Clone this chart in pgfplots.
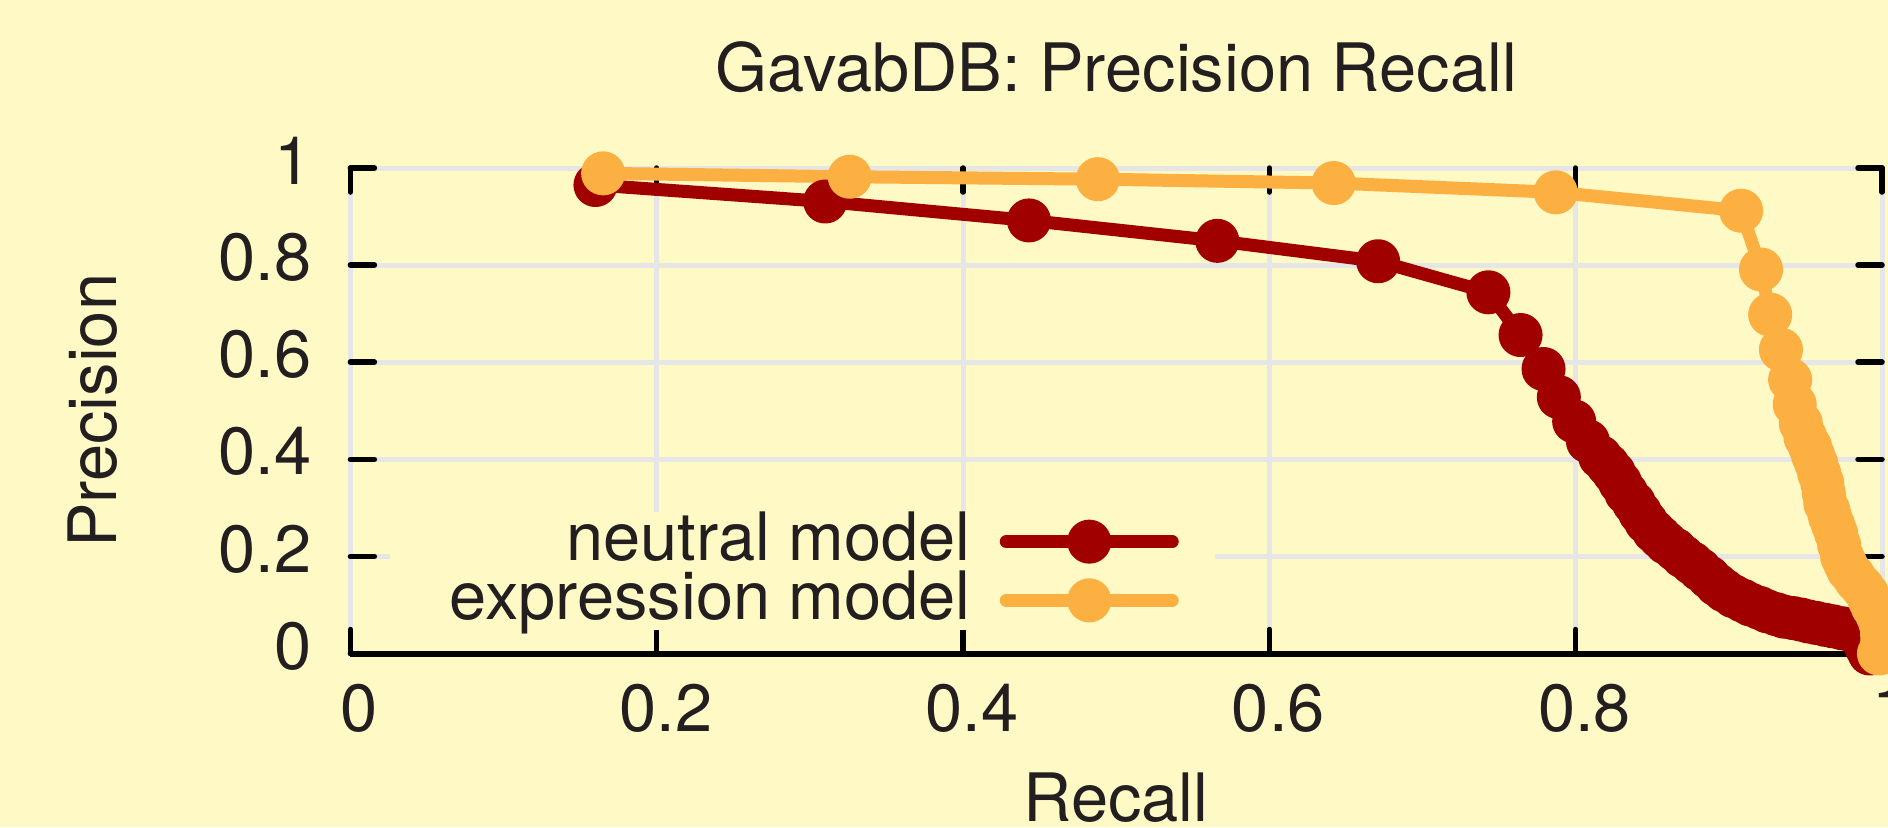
\documentclass[border=0pt]{standalone}
\usepackage{fontspec}
\setmainfont{TeX Gyre Heros}
\usepackage{pgfplots}
\pgfplotsset{compat=1.18}
\definecolor{bgc}{HTML}{FFFAC5}
\definecolor{gridc}{HTML}{E6E6E6}
\definecolor{neut}{HTML}{A00000}
\definecolor{expr}{HTML}{FDB042}
\definecolor{txt}{HTML}{231F20}
\begin{document}
\fontsize{19pt}{23pt}\selectfont
\begin{tikzpicture}
\fill[bgc] (0,0) rectangle (18.88,8.27);
\begin{axis}[
  at={(3.504cm,1.735cm)}, anchor=south west,
  scale only axis, width=15.316cm, height=4.855cm,
  xmin=0, xmax=1, ymin=0, ymax=1,
  clip=false,
  /pgf/number format/assume math mode=true,
  xtick={0,0.2,0.4,0.6,0.8,1}, xticklabels={0,0.2,0.4,0.6,0.8,1},
  ytick={0,0.2,0.4,0.6,0.8,1}, yticklabels={0,0.2,0.4,0.6,0.8,1},
  tick align=inside, major tick length=2.4mm,
  tick style={black, line width=0.55mm, line cap=round},
  grid=major, major grid style={gridc, line width=0.5mm},
  axis line style={draw=none},
  xticklabel style={anchor=north, inner sep=0pt, yshift=-2.95mm, xshift=0.9mm, text=txt},
  yticklabel style={anchor=east, inner sep=0pt, xshift=-3.84mm, yshift=0.75mm, text=txt},
  title={GavabDB: Precision Recall},
  every axis title/.style={at={([yshift=7.63mm]axis description cs:0.5,1)}, anchor=base, inner sep=0pt, text=txt},
  xlabel={Recall},
  every axis x label/.style={at={([yshift=-16.75mm]axis description cs:0.5,0)}, anchor=base, inner sep=0pt, text=txt},
  ylabel={Precision},
  every axis y label/.style={at={([xshift=-23.34mm]axis description cs:0,0.5)}, anchor=base, rotate=90, inner sep=0pt, text=txt},
  legend plot pos=right,
  legend style={at={(axis description cs:0.5648,0.2923)}, anchor=north east,
    fill=bgc, draw=none, inner xsep=3.6mm, inner ysep=0pt,
    row sep=0pt, column sep=2.9mm,
    nodes={inner sep=0pt, text=txt}, cells={anchor=east}},
  legend image code/.code={
    \draw[mark repeat=2, mark phase=2, #1] plot coordinates {(0mm,0mm) (8.3mm,0mm) (16.6mm,0mm)};
  },
]
\draw[black, line width=0.6mm] (rel axis cs:0,0) -- (rel axis cs:1,0);
\addplot[neut, line width=1.3mm, line join=round, line cap=round, mark=*, mark size=1.55mm, mark options={solid, draw=none, fill=neut}] coordinates {
(0.160,0.965)(0.310,0.931)(0.443,0.892)(0.566,0.850)(0.671,0.808)(0.743,0.744)
(0.764,0.656)(0.779,0.586)(0.789,0.528)(0.799,0.478)(0.808,0.437)(0.816,0.405)
(0.821,0.388)(0.825,0.372)(0.829,0.352)(0.833,0.331)(0.838,0.310)(0.842,0.290)
(0.846,0.271)(0.851,0.252)(0.855,0.240)(0.859,0.228)(0.865,0.214)(0.870,0.200)
(0.876,0.186)(0.881,0.173)(0.887,0.157)(0.892,0.142)(0.897,0.130)(0.903,0.118)
(0.909,0.109)(0.914,0.101)(0.920,0.094)(0.925,0.087)(0.931,0.081)(0.936,0.076)
(0.942,0.073)(0.947,0.070)(0.952,0.066)(0.957,0.063)(0.963,0.059)(0.968,0.056)
(0.974,0.052)(0.979,0.049)(0.984,0.044)(0.988,0.030)(0.990,0.012)(0.992,0.000)
};
\addlegendentry{\rule[-1.45mm]{0pt}{6.1mm}neutral model}
\addplot[expr, line width=1.3mm, line join=round, line cap=round, mark=*, mark size=1.55mm, mark options={solid, draw=none, fill=expr}] coordinates {
(0.165,0.989)(0.326,0.982)(0.488,0.977)(0.642,0.969)(0.787,0.950)(0.908,0.912)
(0.921,0.791)(0.927,0.698)(0.934,0.626)(0.940,0.564)(0.943,0.513)(0.947,0.474)
(0.950,0.445)(0.953,0.426)(0.955,0.408)(0.957,0.392)(0.959,0.371)(0.961,0.351)
(0.962,0.330)(0.963,0.309)(0.965,0.295)(0.966,0.282)(0.968,0.265)(0.970,0.248)
(0.972,0.224)(0.974,0.199)(0.976,0.185)(0.978,0.172)(0.981,0.161)(0.983,0.151)
(0.987,0.137)(0.990,0.124)(0.992,0.110)(0.994,0.096)(0.997,0.079)(0.999,0.062)
(1.000,0.040)(1.000,0.020)(0.998,0.000)
};
\addlegendentry{\rule[-1.45mm]{0pt}{6.1mm}\hspace*{2.4mm}expression model}
\end{axis}
\pgfresetboundingbox
\useasboundingbox (0,0) rectangle (18.88,8.27);
\end{tikzpicture}
\end{document}
